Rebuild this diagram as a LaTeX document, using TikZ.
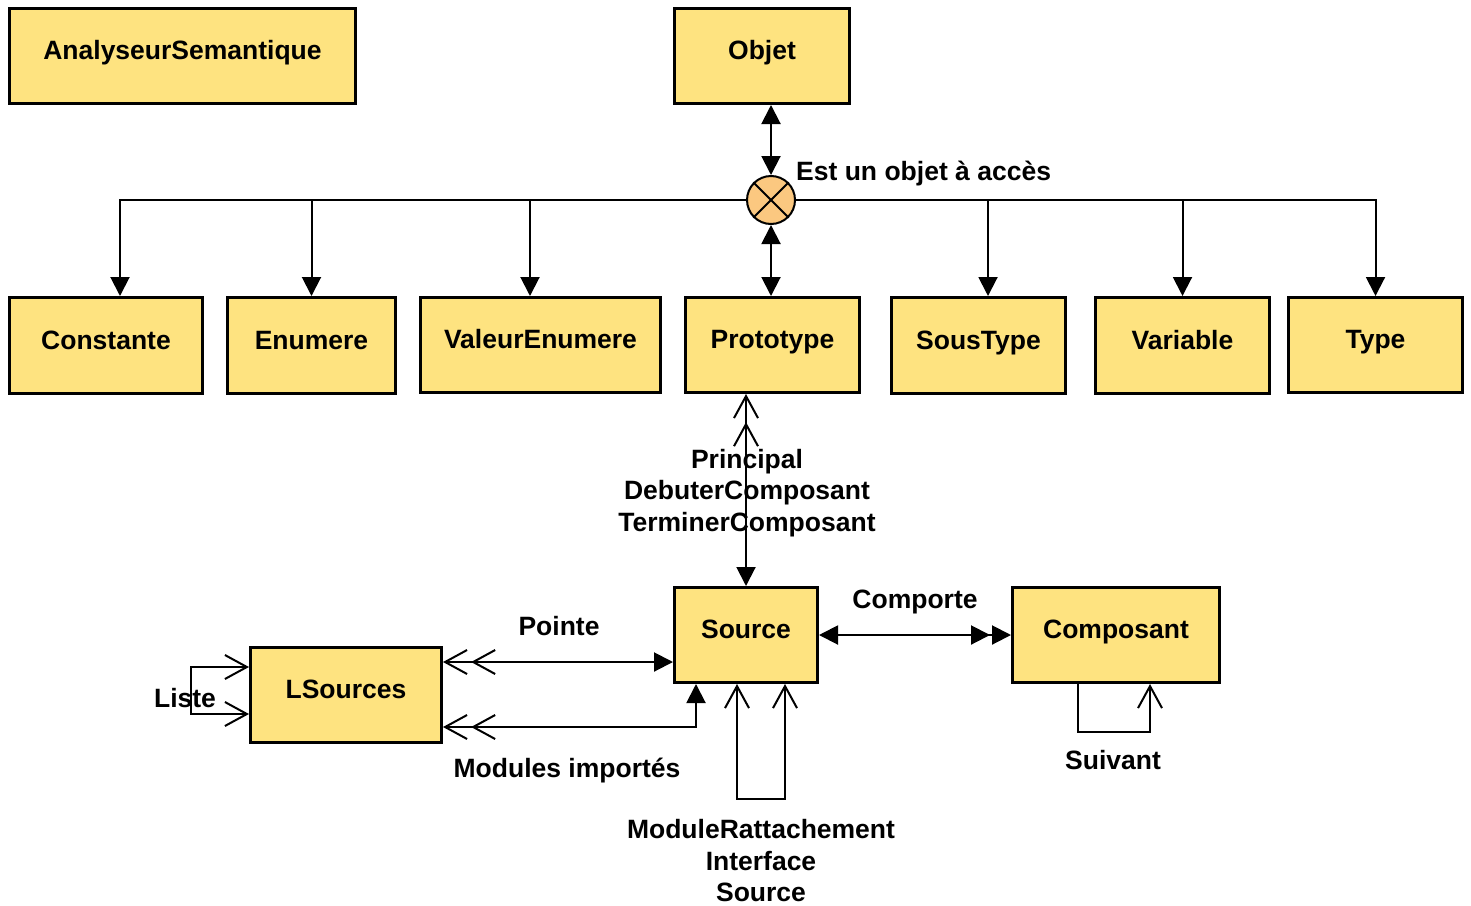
\documentclass[tikz,border=0pt]{standalone}
\usepackage{fontspec}
\setmainfont{Liberation Sans}
\usetikzlibrary{arrows.meta,calc}
\definecolor{boxfill}{RGB}{254,227,128}
\definecolor{juncfill}{RGB}{251,200,128}
\tikzset{
  box/.style={draw, line width=3pt, fill=boxfill, font=\fontsize{26.5}{31.5}\selectfont\bfseries, text height=19pt, text depth=12pt, inner sep=0pt},
  lab/.style={font=\fontsize{26.5}{31.5}\selectfont\bfseries, text height=19pt, text depth=0pt, inner sep=0pt},
  mlab/.style={font=\fontsize{26.5}{31.5}\selectfont\bfseries, align=center, inner sep=0pt},
  conn/.style={line width=2pt},
  mytri/.tip={Triangle[length=19pt,width=19pt]},
  mytt/.tip={Triangle[length=19pt,width=19pt,sep=2pt] Triangle[length=19pt,width=19pt]},
  myvee/.tip={Straight Barb[length=22pt,width=24pt]},
  myvv/.tip={Straight Barb[length=22pt,width=24pt,sep=3pt] Straight Barb[length=22pt,width=24pt]},
}
\begin{document}
\begin{tikzpicture}[x=1pt,y=-1pt]
\useasboundingbox (0,0) rectangle (1471,905);
% boxes
\node[box, minimum width=346pt, minimum height=95pt] (AS) at (182.5,56) {AnalyseurSemantique};
\node[box, minimum width=175pt, minimum height=95pt] (O) at (762,56) {Objet};
\node[box, minimum width=193pt, minimum height=96pt] (C) at (106,345.5) {Constante};
\node[box, minimum width=168pt, minimum height=96pt] (E) at (311.5,345.5) {Enumere};
\node[box, minimum width=240pt, minimum height=95pt] (VE) at (540.5,345) {ValeurEnumere};
\node[box, minimum width=174pt, minimum height=95pt] (P) at (772.5,345) {Prototype};
\node[box, minimum width=174pt, minimum height=96pt] (ST) at (978.5,345.5) {SousType};
\node[box, minimum width=174pt, minimum height=96pt] (V) at (1182.5,345.5) {Variable};
\node[box, minimum width=174pt, minimum height=95pt] (T) at (1375.5,345) {Type};
\node[box, minimum width=143pt, minimum height=95pt] (S) at (746,635) {Source};
\node[box, minimum width=207pt, minimum height=95pt] (CP) at (1116,635) {Composant};
\node[box, minimum width=191pt, minimum height=95pt] (LS) at (346,695) {LSources};
% junction
\node[circle, draw, line width=2pt, fill=juncfill, minimum size=48pt, inner sep=0pt] (J) at (771,200) {};
\draw[line width=2pt] (J.north west) -- (J.south east);
\draw[line width=2pt] (J.north east) -- (J.south west);
\node[lab, anchor=west] (lEst) at (796,171) {Est un objet à accès};
% top connectors
\draw[conn,mytri-mytri] (J.north |- O.south) -- (J.north);
\draw[conn,mytri-mytri] (J.south) -- (J.south |- P.north);
\draw[conn,-mytri] (J.west) -| ([xshift=14pt]C.north);
\draw[conn,-mytri] (J.west) -| (E.north);
\draw[conn,-mytri] (J.west) -| ([xshift=-10.5pt]VE.north);
\draw[conn,-mytri] (J.east) -| ([xshift=9.5pt]ST.north);
\draw[conn,-mytri] (J.east) -| (V.north);
\draw[conn,-mytri] (J.east) -| (T.north);
% Prototype - Source
\draw[conn,myvv-mytri] (P.south -| S.north) -- (S.north);
\node[mlab] (lPrin) at (747,493) {Principal\\DebuterComposant\\TerminerComposant};
% LSources - Source
\draw[conn,myvv-mytri] ([yshift=33pt]LS.east) -- ([yshift=33pt]LS.east -| S.west);
\node[lab] (lPointe) at (559,626) {Pointe};
\draw[conn,myvv-mytri] ([yshift=-32pt]LS.east) -| ([xshift=23pt]S.south west);
\node[lab] (lMod) at (567,768) {Modules importés};
% Liste loop
\draw[conn,myvee-myvee] ([yshift=28pt]LS.west) -- ++(-58,0) |- ([yshift=-19pt]LS.west);
\node[lab] (lListe) at (185,698) {Liste};
% Source - Composant
\draw[conn,mytri-mytt] (S.east) -- (CP.west);
\node[lab] (lComp) at (915,599) {Comporte};
% Source self loop
\draw[conn,myvee-myvee] ([xshift=-9pt]S.south) -- ++(0,115) -| ([xshift=39pt]S.south);
\node[mlab] (lMR) at (761,861) {ModuleRattachement\\Interface\\Source};
% Composant self loop
\draw[conn,-myvee] ([xshift=-38pt]CP.south) -- ++(0,48) -| ([xshift=34pt]CP.south);
\node[lab] (lSuiv) at (1113,760) {Suivant};
\end{tikzpicture}
\end{document}
